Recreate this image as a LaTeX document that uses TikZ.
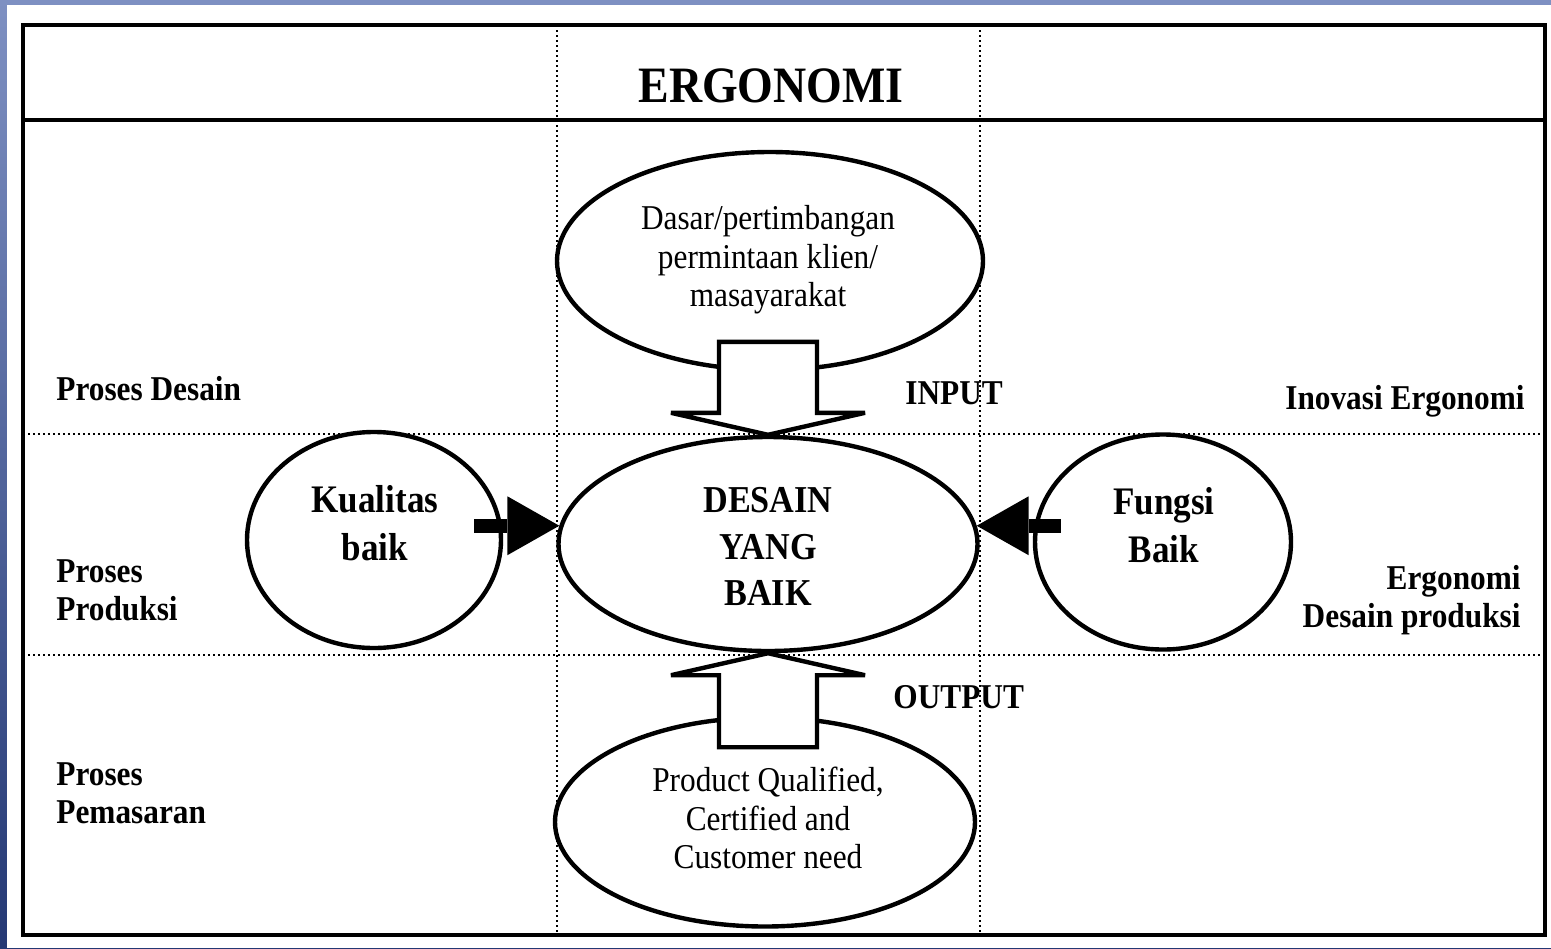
\documentclass[tikz,border=0pt]{standalone}
\usepackage{fontspec}
\setmainfont{Liberation Serif}[FakeStretch=0.9]
\usetikzlibrary{shapes.geometric,arrows.meta,calc}
\definecolor{framenavy}{RGB}{36,56,116}
\definecolor{framesky}{RGB}{126,144,194}

\begin{document}
\begin{tikzpicture}
 [x=0.5pt,y=-0.5pt,
   every node/.style={inner sep=0pt},
   side/.style={font=\fontsize{17.4}{19}\selectfont\bfseries,align=left},
   oval/.style={ellipse,draw,line width=2.2pt,fill=white},
   plain text/.style={font=\fontsize{17.4}{19.25}\selectfont,align=center},
   heavy text/.style={font=\fontsize{19.5}{24}\selectfont\bfseries,align=center},
   divider/.style={line width=1pt,dash pattern=on 1pt off 1.5pt},
   hollow/.style={draw,fill=white,line width=2.2pt,miter limit=3},
   fat/.style={line width=7pt,-{Triangle[length=26pt,width=29.5pt,line width=0pt]}}]
  \useasboundingbox (0,0) rectangle (1551,948);
  \shade[top color=framesky,bottom color=framenavy] (0,0) rectangle (1551,948);
  \fill[white] (7,5) rectangle (1551,948);

  % table frame
  \draw[line width=2pt] (23,25) rectangle (1545,935);
  \draw[line width=2pt] (23,119.5) -- (1545,119.5);
  \draw[divider] (557,25) -- (557,935);
  \draw[divider] (980,25) -- (980,935);
  \draw[divider] (23,434) -- (1545,434);
  \draw[divider] (23,655) -- (1545,655);

  \node[font=\fontsize{25.5}{30}\selectfont\bfseries] (title) at (771,86) {ERGONOMI};

  % ovals
  \node[oval,minimum width=213pt,minimum height=109pt] (client) at (770,261) {};
  \node[oval,minimum width=210pt,minimum height=104.5pt] (product) at (765,822) {};
  \node[oval,minimum width=209.5pt,minimum height=107pt] (good) at (768,544) {};
  \node[oval,minimum width=127pt,minimum height=108pt] (quality) at (374,540) {};
  \node[oval,minimum width=128pt,minimum height=107.5pt] (function) at (1163,542) {};

  % block arrows
  \draw[hollow] (good.north) -- ++(-97,-22) -- ++(48,0) -- ++(0,-71)
    -- ++(98,0) -- ++(0,71) -- ++(48,0) -- cycle;
  \draw[hollow] (good.south) -- ++(-97,22) -- ++(48,0) -- ++(0,72)
    -- ++(98,0) -- ++(0,-72) -- ++(48,0) -- cycle;
  \draw[fat] ($(quality.east |- good.175)+(-29,0)$) -- (good.175);
  \draw[fat] ($(function.west |- good.5)+(28,0)$) -- (good.5);

  % texts
  \node[plain text] (clienttext) at (768,260) {Dasar/pertimbangan\\permintaan klien/\\masayarakat};
  \node[plain text] (producttext) at (768,818) {Product Qualified,\\Certified and\\Customer need};
  \node[heavy text,font=\fontsize{19}{23.25}\selectfont\bfseries] (goodtext) at (768,546.5) {DESAIN\\YANG\\BAIK};
  \node[heavy text] (qualitytext) at (375,523.5) {Kualitas\\baik};
  \node[heavy text] (functiontext) at (1164,525.5) {Fungsi\\Baik};

  \node[side,anchor=west] (desain) at (56,389) {Proses Desain};
  \node[side,anchor=west] (produksi) at (56,590) {Proses\\Produksi};
  \node[side,anchor=west] (pemasaran) at (56,793) {Proses\\Pemasaran};
  \node[side,anchor=east] (inovasi) at (1525,401) {Inovasi Ergonomi};
  \node[side,anchor=east,align=right] (ergo) at (1521,600) {Ergonomi\\Desain produksi};
  \node[side,anchor=west] (input) at (905,393) {INPUT};
  \node[side,anchor=west] (output) at (893,697) {OUTPUT};
\end{tikzpicture}
\end{document}
